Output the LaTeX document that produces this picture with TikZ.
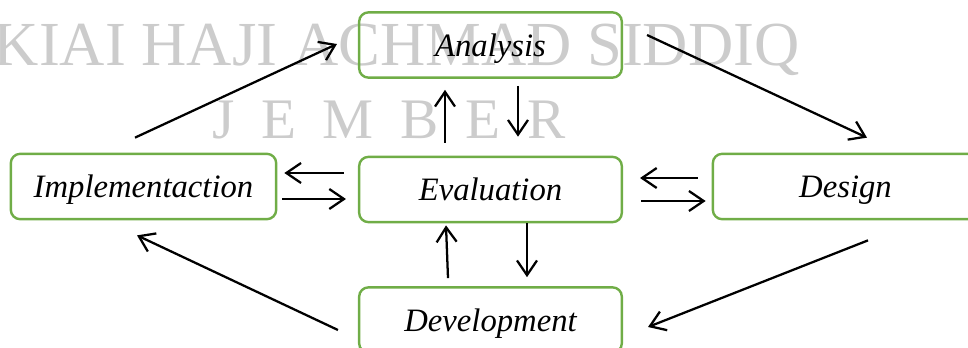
\documentclass[tikz,border=0pt]{standalone}
\usepackage{fontspec}
\setmainfont{Liberation Serif}
\usetikzlibrary{arrows.meta}
\definecolor{boxgreen}{RGB}{112,173,71}
\definecolor{wmgray}{RGB}{204,204,204}
\begin{document}
\begin{tikzpicture}[x=0.75pt,y=-0.75pt,
  box/.style={draw=boxgreen, line width=1.8pt, rounded corners=7pt, minimum width=197pt, minimum height=49pt, inner sep=0pt, text height=20pt, text depth=3.5pt, font=\fontsize{24.5}{28}\selectfont\itshape},
  arr/.style={draw=black, line width=1.7pt, -{Straight Barb[length=11pt,width=15pt]}},
  wm/.style={text=wmgray, inner sep=0pt, font=\fontsize{47}{50}\selectfont}]
\clip (0,0) rectangle (968,347);
\useasboundingbox (0,0) rectangle (968,347);
% watermark
\node[wm, anchor=base east] (wm1) at (800,65) {KIAI HAJI ACHMAD SIDDIQ};
\node[wm, anchor=base west, font=\fontsize{43}{46}\selectfont] (wm2) at (212,138) {\spaceskip=20pt J E M B E R};
% boxes
\node[box] (ana) at (490.5,45) {Analysis};
\node[box, minimum width=199pt] (imp) at (143.5,186.5) {Implementaction};
\node[box] (eval) at (490.5,189.5) {Evaluation};
\node[box, minimum width=199pt] (des) at (845.5,186.5) {Design};
\node[box] (dev) at (490.5,320) {Development};
% outer cycle
\draw[arr] ([shift={(-8.5,-15)}]imp.north) -- ([shift={(-21,-1)}]ana.west);
\draw[arr] ([shift={(24,-10)}]ana.east) -- ([shift={(21.5,-15)}]des.north);
\draw[arr] ([shift={(22.5,20)}]des.south) -- ([shift={(25,7)}]dev.east);
\draw[arr] ([shift={(-20,10)}]dev.west) -- ([shift={(-6.5,15)}]imp.south);
% with evaluation
\draw[arr] ([shift={(-45.5,-13)}]eval.north) -- ([shift={(-45.5,11)}]ana.south);
\draw[arr] ([shift={(27.5,7)}]ana.south) -- ([shift={(27.5,-19)}]eval.north);
\draw[arr] ([shift={(-42.5,-8)}]dev.north) -- ([shift={(-44.5,2)}]eval.south);
\draw[arr] ([shift={(36.5,0)}]eval.south) -- ([shift={(36.5,-9)}]dev.north);
\draw[arr] ([shift={(-14,-16.5)}]eval.west) -- ([shift={(7,-13.5)}]imp.east);
\draw[arr] ([shift={(5,12.5)}]imp.east) -- ([shift={(-12,9.5)}]eval.west);
\draw[arr] ([shift={(-14,-8.5)}]des.west) -- ([shift={(17,-11.5)}]eval.east);
\draw[arr] ([shift={(18,11.5)}]eval.east) -- ([shift={(-6,14.5)}]des.west);
\end{tikzpicture}
\end{document}
